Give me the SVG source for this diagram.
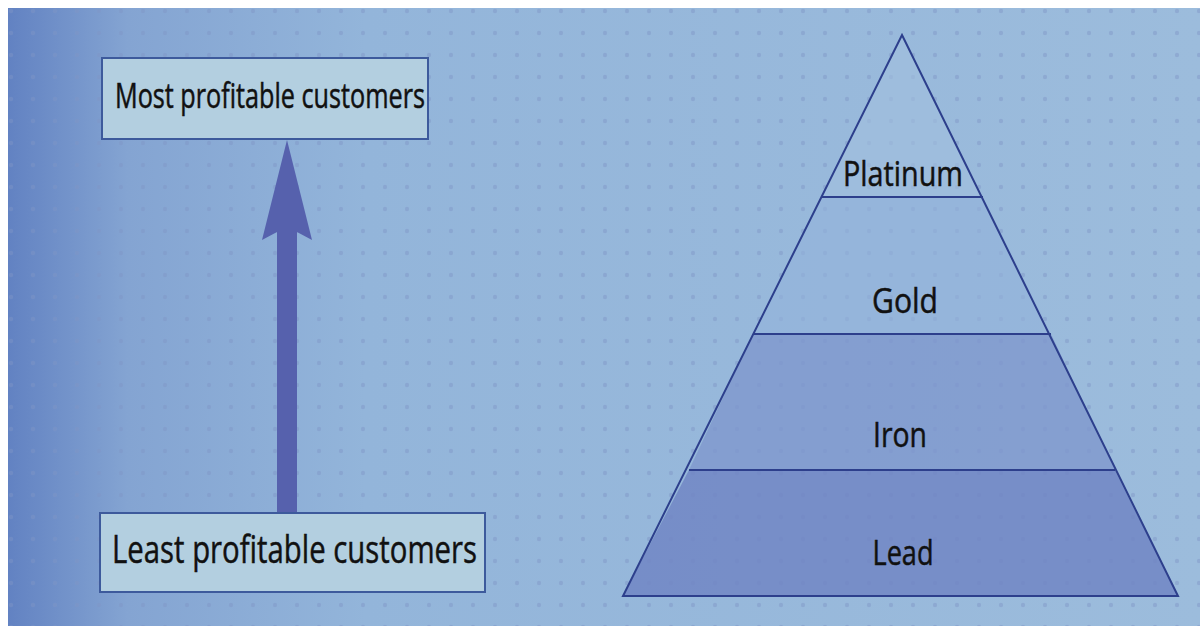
<svg xmlns="http://www.w3.org/2000/svg" width="1204" height="634" viewBox="0 0 1204 634">
<style>
.lbl{font-family:"Open Sans","Noto Sans","Liberation Sans",sans-serif;font-size:34px;fill:#111;stroke:#111;stroke-width:0.5;}
.py{font-size:35px;}
.box{fill:#b3cfe0;stroke:#3d5a9c;stroke-width:2;}
.tier{stroke:#2d3f8c;stroke-width:2;}
</style>
<defs>
<linearGradient id="bg" x1="0" y1="0" x2="1" y2="0">
<stop offset="0" stop-color="#6282c2"/>
<stop offset="0.1" stop-color="#84a4d2"/>
<stop offset="0.3" stop-color="#93b5da"/>
<stop offset="1" stop-color="#9cbcdc"/>
</linearGradient>
<pattern id="dots" width="22" height="22" patternUnits="userSpaceOnUse">
<circle cx="11" cy="11" r="2.2" fill="#7f94c6" opacity="0.45"/>
</pattern>
</defs>
<rect x="0" y="0" width="1204" height="634" fill="#ffffff"/>
<rect x="8" y="8" width="1192" height="618" fill="url(#bg)"/>
<rect x="8" y="8" width="1192" height="618" fill="url(#dots)"/>
<g id="connectors">
<path d="M277,513 L277,232 L262,240 L287,140 L312,240 L297,232 L297,513 Z" fill="#5661ad"/>
</g>
<g id="node-most">
<rect class="box" x="102" y="58" width="326" height="81"/>
<text class="lbl" x="115" y="108" textLength="310" lengthAdjust="spacingAndGlyphs">Most profitable customers</text>
</g>
<g id="node-least">
<rect class="box" x="100" y="513" width="385" height="79"/>
<text class="lbl" x="112" y="563" textLength="365" lengthAdjust="spacingAndGlyphs" style="font-size:39px">Least profitable customers</text>
</g>
<g id="pyramid">
<g id="tier-platinum">
<polygon points="902,35 983,197 821,197" fill="#a2c0de" fill-opacity="0.6"/>
<text class="lbl py" x="903" y="186" text-anchor="middle" textLength="120" lengthAdjust="spacingAndGlyphs">Platinum</text>
</g>
<g id="tier-gold">
<polygon points="821,197 983,197 1051,334 753,334" fill="#93b3da" fill-opacity="0.6"/>
<text class="lbl py" x="905" y="313" text-anchor="middle" textLength="66" lengthAdjust="spacingAndGlyphs">Gold</text>
</g>
<g id="tier-iron">
<polygon points="753,334 1051,334 1115,470 689,470" fill="#7e95cc" fill-opacity="0.75"/>
<text class="lbl py" x="900" y="447" text-anchor="middle" textLength="54" lengthAdjust="spacingAndGlyphs">Iron</text>
</g>
<g id="tier-lead">
<polygon points="689,470 1115,470 1178,596 623,596" fill="#7186c4" fill-opacity="0.85"/>
<text class="lbl py" x="903" y="565" text-anchor="middle" textLength="61" lengthAdjust="spacingAndGlyphs">Lead</text>
</g>
<line class="tier" x1="821" y1="197" x2="983" y2="197"/>
<line class="tier" x1="753" y1="334" x2="1051" y2="334"/>
<line class="tier" x1="689" y1="470" x2="1115" y2="470"/>
<polygon points="902,35 1178,596 623,596" fill="none" stroke="#2d3f8c" stroke-width="2"/>
</g>
</svg>
